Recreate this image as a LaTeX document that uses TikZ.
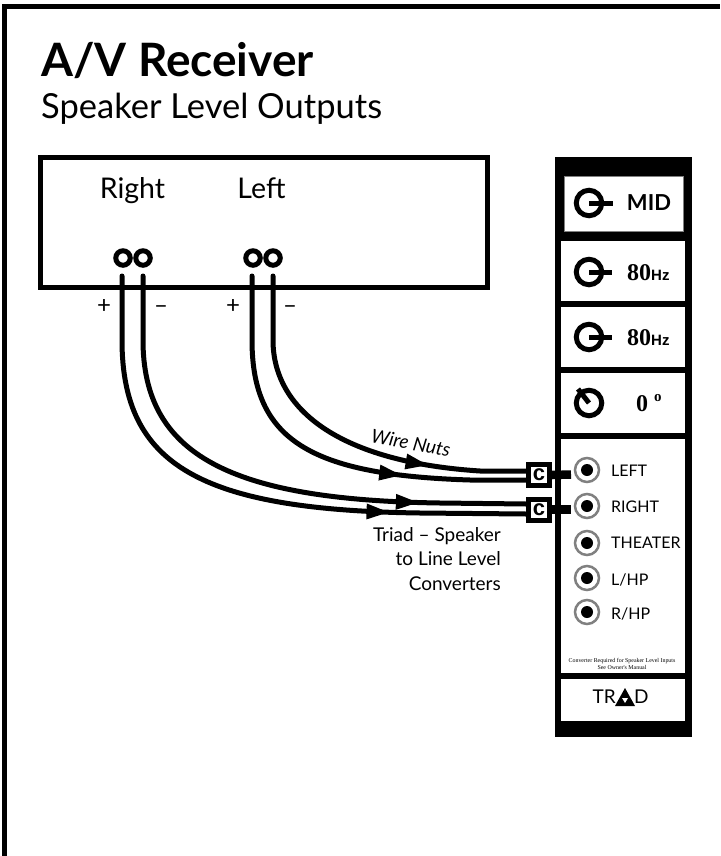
\documentclass[tikz,border=0pt]{standalone}
\usepackage{fontspec}
\setmainfont{Lato}
\newfontfamily\serifface{Liberation Serif}
\newfontfamily\headface{Liberation Sans}
\usetikzlibrary{arrows.meta,decorations.markings}
\tikzset{panelcell/.style={fill=white, inner sep=0pt, minimum width=124, minimum height=60},
	post/.style={circle, draw, line width=5pt, inner sep=0pt, minimum size=14.5},
	knob/.style={circle, draw, line width=5pt, inner sep=0pt, minimum size=25.5},
	knobline/.style={line width=5pt},
	jack/.style={circle, draw=black!50, line width=2.5pt, fill=white, inner sep=0pt, minimum size=24},
	jackdot/.style={circle, fill=black, inner sep=0pt, minimum size=12},
	jacklabel/.style={anchor=west, inner sep=0pt, font=\fontsize{16}{16}\selectfont},
	conv/.style={rectangle, draw, line width=5pt, fill=white, inner sep=0pt, minimum size=21,
		font=\headface\bfseries\fontsize{22}{22}\selectfont},
	wire/.style={line width=5pt, line cap=round, postaction={decorate},
		decoration={markings, mark=at position #1 with {\arrow[line width=0pt]{Triangle[length=22pt,width=16pt]}}}},
	stub/.style={line width=8.5pt},
	polarity/.style={inner sep=0pt, font=\fontsize{24}{24}\selectfont}}
\begin{document}
\begin{tikzpicture}[x=1pt,y=-1pt]
    \useasboundingbox (0,0) rectangle (720,856);
    \draw[line width=5pt] (4,856) -- (4,6.5) -- (720,6.5);
    % heading
    \node[anchor=base west, inner sep=0pt, font=\bfseries\fontsize{46}{46}\selectfont] (title) at (41,77){A/V Receiver};
    \node[anchor=base west, inner sep=0pt, font=\fontsize{34.5}{34.5}\selectfont] (subtitle) at (41,119){Speaker Level Outputs};
    % receiver
    \node[draw, line width=5pt, inner sep=0pt, minimum width=447, minimum height=130] (receiver) at (264,222.5){};
    \node[anchor=base, inner sep=0pt, font=\fontsize{28.5}{28.5}\selectfont] (right) at (132.5,198){Right};
    \node[anchor=base, inner sep=0pt, font=\fontsize{28.5}{28.5}\selectfont] (left) at (261.5,198){Left};
    \node[post] (ra) at (123,258){};
    \node[post] (rb) at (143,258){};
    \node[post] (la) at (253,258){};
    \node[post] (lb) at (273,258){};
    \node[polarity] (rplus) at (104,307){+};
    \node[polarity] (rminus) at (161,310){--};
    \node[polarity] (lplus) at (233,307){+};
    \node[polarity] (lminus) at (290,310){--};
    % panel
    \node[fill=black, inner sep=0pt, minimum width=137, minimum height=580] (panel) at (623.5,447){};
    \node[panelcell, draw=black!50, line width=0.5pt, minimum width=119, minimum height=55] (cellmid) at (623.5,203.5){};
    \node[panelcell] (cellb) at (623,271){};
    \node[panelcell] (cellc) at (623,337){};
    \node[panelcell] (celld) at (623,403){};
    \node[panelcell, minimum height=234] (celljacks) at (623,556){};
    \node[panelcell, minimum height=42] (celllogo) at (623,700){};
    % knobs
    \node[knob] (knoba) at (589,203){};
    \node[knob] (knobb) at (589,272){};
    \node[knob] (knobc) at (589,337){};
    \node[knob] (knobd) at (589,403){};
    \coordinate (enda) at (613,203);
    \coordinate (endb) at (612,272);
    \coordinate (endc) at (612,337);
    \coordinate (endd) at (578,389);
    \draw[knobline] (knoba.center) -- (enda);
    \draw[knobline] (knobb.center) -- (endb);
    \draw[knobline] (knobc.center) -- (endc);
    \draw[knobline] (knobd.center) -- (endd);
    \node[inner sep=0pt, font=\bfseries\fontsize{22}{22}\selectfont] (mid) at (649,203){MID};
    \node[anchor=base west, inner sep=0pt, font=\serifface\bfseries\fontsize{24}{24}\selectfont] (hza) at (627,280){80\fontsize{15}{15}\headface Hz};
    \node[anchor=base west, inner sep=0pt, font=\serifface\bfseries\fontsize{24}{24}\selectfont] (hzb) at (627,345){80\fontsize{15}{15}\headface Hz};
    \node[anchor=base west, inner sep=0pt, font=\serifface\bfseries\fontsize{24}{24}\selectfont] (deg) at (636,411){0 \raisebox{0.4em}{\fontsize{15}{15}\selectfont o}};
    % jacks
    \node[jack] (jleft) at (587,470){};
    \node[jack] (jright) at (587,506){};
    \node[jack] (jtheater) at (587,543){};
    \node[jack] (jlhp) at (587,578){};
    \node[jack] (jrhp) at (587,612){};
    \node[jackdot] (dleft) at (jleft){};
    \node[jackdot] (dright) at (jright){};
    \node[jackdot] (dtheater) at (jtheater){};
    \node[jackdot] (dlhp) at (jlhp){};
    \node[jackdot] (drhp) at (jrhp){};
    \node[jacklabel] (tleft) at (611,471){LEFT};
    \node[jacklabel] (tright) at (611,507){RIGHT};
    \node[jacklabel] (ttheater) at (611,543){THEATER};
    \node[jacklabel] (tlhp) at (611,580){L/HP};
    \node[jacklabel] (trhp) at (611,614){R/HP};
    \node[align=center, inner sep=0pt, font=\serifface\fontsize{5.9}{7}\selectfont] (note) at (622,663.5){Converter Required for Speaker Level Inputs\\See Owner's Manual};
    % logo
    \node[anchor=east, inner sep=0pt, font=\fontsize{19}{19}\selectfont] (logoa) at (616,697){TR};
    \node[anchor=west, inner sep=0pt, font=\fontsize{19}{19}\selectfont] (logob) at (634,697){D};
    \fill (625,688) -- (635,706) -- (615,706) -- cycle;
    \fill[white] (625,703) -- (628,698) -- (622,698) -- cycle;
    % converters
    \node[conv] (convl) at (539,475){c};
    \node[conv] (convr) at (539,509.5){c};
    \coordinate (stubl) at (571,474.5);
    \coordinate (stubr) at (571,509.5);
    \draw[stub] (convl.east) -- (stubl);
    \draw[stub] (convr.east) -- (stubr);
    % wires
    \coordinate (wra) at (122,276);
    \coordinate (wrb) at (143,276);
    \coordinate (wla) at (252,276);
    \coordinate (wlb) at (273,276);
    \coordinate (era) at (526,514);
    \coordinate (erb) at (526,504);
    \coordinate (ela) at (526,480);
    \coordinate (elb) at (526,471);
    \draw[wire=0.756] (wra) -- (122,340) .. controls (122,465) and (200,510) .. (420,513) -- (era);
    \draw[wire=0.797] (wrb) -- (143,340) .. controls (143,455) and (230,500) .. (440,503) -- (erb);
    \draw[wire=0.70] (wla) -- (252,340) .. controls (252,440) and (310,475) .. (470,480) -- (ela);
    \draw[wire=0.74] (wlb) -- (273,340) .. controls (273,410) and (340,462) .. (480,471) -- (elb);
    % labels
    \node[rotate=-10, inner sep=0pt, font=\itshape\fontsize{19}{19}\selectfont] (nuts) at (411,443){Wire Nuts};
    \node[align=right, anchor=north east, inner sep=0pt, font=\fontsize{19}{24.5}\selectfont] (triad) at (501,527){Triad -- Speaker\\to Line Level\\Converters};
\end{tikzpicture}
\end{document}
